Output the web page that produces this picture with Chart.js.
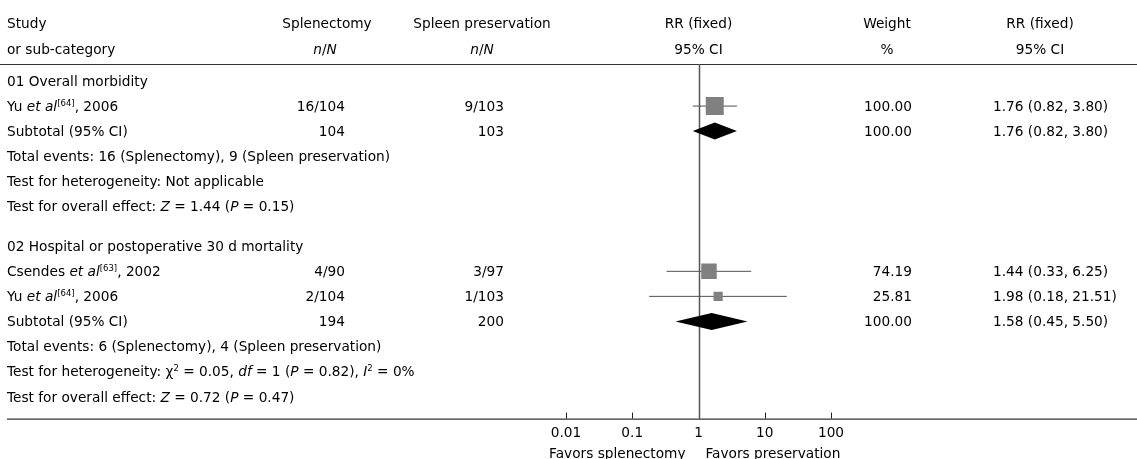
<!DOCTYPE html>
<html>
<head>
<meta charset="utf-8">
<script src="https://cdn.jsdelivr.net/npm/chart.js@4.4.1/dist/chart.umd.min.js"></script>
<style>
  html, body { margin: 0; padding: 0; background: #fff; }
  #wrap { position: relative; width: 1137px; height: 459px; overflow: hidden;
          font-family: 'DejaVu Sans', sans-serif; font-size: 13.7px; color: #000; }
  #wrap canvas { position: absolute; left: 0; top: 0; }
  .t { position: absolute; white-space: nowrap; height: 16px; line-height: 16px; }
  .t sup { font-size: 8.5px; line-height: 0; vertical-align: 0; position: relative; top: -5px; }
</style>
</head>
<body>
<div id="wrap"><canvas id="c" width="1137" height="459"></canvas></div>
<script>
// ---- data ----
const groupTitles = ['01 Overall morbidity', '02 Hospital or postoperative 30 d mortality'];
const groupRows = [0, 6.6];

const studyAuthors = ['Yu', 'Csendes', 'Yu'];
const studyRefs = ['64', '63', '64'];
const studyYears = ['2006', '2002', '2006'];
const studyRows = [1, 7.6, 8.6];
const eventsSplen = ['16/104', '4/90', '2/104'];
const eventsPres = ['9/103', '3/97', '1/103'];
const studyWeight = [100.00, 74.19, 25.81];
const studyRR = [1.76, 1.44, 1.98];
const studyLo = [0.82, 0.33, 0.18];
const studyHi = [3.80, 6.25, 21.51];

const subRows = [2, 9.6];
const subTotSplen = [104, 194];
const subTotPres = [103, 200];
const subWeight = [100.00, 100.00];
const subRR = [1.76, 1.58];
const subLo = [0.82, 0.45];
const subHi = [3.80, 5.50];

const eventsText = [
  'Total events: 16 (Splenectomy), 9 (Spleen preservation)',
  'Total events: 6 (Splenectomy), 4 (Spleen preservation)'
];
const heteroText = [
  'Test for heterogeneity: Not applicable',
  'Test for heterogeneity: &chi;<sup>2</sup> = 0.05, <i>df</i> = 1 (<i>P</i> = 0.82), <i>I</i><sup>2</sup> = 0%'
];
const effectText = [
  'Test for overall effect: <i>Z</i> = 1.44 (<i>P</i> = 0.15)',
  'Test for overall effect: <i>Z</i> = 0.72 (<i>P</i> = 0.47)'
];

const xTicks = [0.01, 0.1, 1, 10, 100];
const xTickLabels = ['0.01', '0.1', '1', '10', '100'];

// ---- helpers ----
const fmt2 = v => v.toFixed(2);
const ciLabel = (r, l, h) => `${fmt2(r)} (${fmt2(l)}, ${fmt2(h)})`;
const boxSide = w => 1.8 * Math.sqrt(w);   // square size scales with weight

const forest = {
  id: 'forest',
  beforeDatasetsDraw(chart) {
    const { ctx, chartArea: a, scales: { x } } = chart;
    ctx.save();
    ctx.strokeStyle = '#333';
    ctx.lineWidth = 1.2;
    ctx.beginPath();
    ctx.moveTo(0, a.top + 0.5); ctx.lineTo(chart.width, a.top + 0.5);
    ctx.moveTo(7, a.bottom + 0.5); ctx.lineTo(chart.width, a.bottom + 0.5);
    ctx.stroke();

    // ticks pointing up from the axis
    ctx.lineWidth = 1;
    ctx.strokeStyle = '#222';
    ctx.beginPath();
    x.ticks.forEach(t => {
      const px = Math.round(x.getPixelForValue(t.value)) + 0.5;
      ctx.moveTo(px, a.bottom);
      ctx.lineTo(px, a.bottom - 6);
    });
    ctx.stroke();

    // line of no effect
    const p1 = Math.round(x.getPixelForValue(1)) + 0.5;
    ctx.strokeStyle = '#555';
    ctx.lineWidth = 1.5;
    ctx.beginPath();
    ctx.moveTo(p1, a.top); ctx.lineTo(p1, a.bottom);
    ctx.stroke();
    ctx.restore();
  },
  afterDatasetsDraw(chart) {
    const { ctx, scales: { x, y } } = chart;
    ctx.save();
    ctx.fillStyle = '#000';
    subRows.forEach((r, i) => {
      const py = y.getPixelForValue(r);
      const h = 8.5;
      ctx.beginPath();
      ctx.moveTo(x.getPixelForValue(subLo[i]), py);
      ctx.lineTo(x.getPixelForValue(subRR[i]), py - h);
      ctx.lineTo(x.getPixelForValue(subHi[i]), py);
      ctx.lineTo(x.getPixelForValue(subRR[i]), py + h);
      ctx.closePath();
      ctx.fill();
    });
    ctx.restore();
  }
};

const ciSets = studyRows.map((r, i) => ({
  data: [{ x: studyLo[i], y: r }, { x: studyHi[i], y: r }],
  showLine: true,
  borderColor: '#505050',
  borderWidth: 1,
  pointRadius: 0,
  pointHoverRadius: 0
}));

const chart = new Chart(document.getElementById('c'), {
  type: 'scatter',
  data: {
    datasets: [
      {
        data: studyRows.map((r, i) => ({ x: studyRR[i], y: r })),
        pointStyle: 'rect',
        backgroundColor: '#808080',
        borderWidth: 0,
        pointRadius: c => boxSide(studyWeight[c.dataIndex]) / Math.SQRT2,
        pointHoverRadius: c => boxSide(studyWeight[c.dataIndex]) / Math.SQRT2
      },
      ...ciSets
    ]
  },
  options: {
    responsive: false,
    animation: false,
    events: [],
    layout: { padding: { left: 566, right: 306, top: 64, bottom: 10 } },
    plugins: { legend: { display: false }, tooltip: { enabled: false } },
    scales: {
      x: {
        type: 'logarithmic',
        position: 'bottom',
        min: 0.01,
        max: 100,
        afterBuildTicks: s => { s.ticks = xTicks.map(v => ({ value: v })); },
        ticks: {
          autoSkip: false,
          maxRotation: 0,
          padding: 7,
          color: '#000',
          font: { family: 'DejaVu Sans', size: 13.7 },
          callback: v => xTickLabels[xTicks.indexOf(v)]
        },
        grid: { display: false, drawTicks: false },
        border: { display: false }
      },
      y: { type: 'linear', min: -0.68, max: 13.48, reverse: true, display: false }
    }
  },
  plugins: [forest]
});

// ---- table text positioned on the chart's own scales ----
const wrap = document.getElementById('wrap');
const W = 1137;
function put(html, x, py, align) {
  const d = document.createElement('div');
  d.className = 't';
  d.innerHTML = html;
  d.style.top = (py - 8) + 'px';
  if (align === 'right') d.style.right = (W - x) + 'px';
  else if (align === 'center') { d.style.left = x + 'px'; d.style.transform = 'translateX(-50%)'; }
  else d.style.left = x + 'px';
  wrap.appendChild(d);
}

const ys = chart.scales.y, xs = chart.scales.x;
const rowY = r => ys.getPixelForValue(r);
const x1 = xs.getPixelForValue(1);
const colStudy = 7, colA = 345, colB = 504, colW = 912, colCI = 993;
const hdr1 = rowY(-2.32), hdr2 = rowY(-1.28);

put('Study', colStudy, hdr1, 'left');
put('or sub-category', colStudy, hdr2, 'left');
put('Splenectomy', 327, hdr1, 'center');
put('<i>n</i>/<i>N</i>', 325, hdr2, 'center');
put('Spleen preservation', 482, hdr1, 'center');
put('<i>n</i>/<i>N</i>', 482, hdr2, 'center');
put('RR (fixed)', x1, hdr1, 'center');
put('95% CI', x1, hdr2, 'center');
put('Weight', 887, hdr1, 'center');
put('%', 887, hdr2, 'center');
put('RR (fixed)', 1040, hdr1, 'center');
put('95% CI', 1040, hdr2, 'center');

groupRows.forEach((r, g) => {
  put(groupTitles[g], colStudy, rowY(r), 'left');
  const base = subRows[g];
  put('Subtotal (95% CI)', colStudy, rowY(base), 'left');
  put(String(subTotSplen[g]), colA, rowY(base), 'right');
  put(String(subTotPres[g]), colB, rowY(base), 'right');
  put(fmt2(subWeight[g]), colW, rowY(base), 'right');
  put(ciLabel(subRR[g], subLo[g], subHi[g]), colCI, rowY(base), 'left');
  put(eventsText[g], colStudy, rowY(base + 1), 'left');
  put(heteroText[g], colStudy, rowY(base + 2), 'left');
  put(effectText[g], colStudy, rowY(base + 3), 'left');
});

studyRows.forEach((r, i) => {
  const py = rowY(r);
  put(`${studyAuthors[i]} <i>et al</i><sup>[${studyRefs[i]}]</sup>, ${studyYears[i]}`, colStudy, py, 'left');
  put(eventsSplen[i], colA, py, 'right');
  put(eventsPres[i], colB, py, 'right');
  put(fmt2(studyWeight[i]), colW, py, 'right');
  put(ciLabel(studyRR[i], studyLo[i], studyHi[i]), colCI, py, 'left');
});

const favY = chart.chartArea.bottom + 34;
put('Favors splenectomy', x1 - 13, favY, 'right');
put('Favors preservation', x1 + 7, favY, 'left');
</script>
</body>
</html>
